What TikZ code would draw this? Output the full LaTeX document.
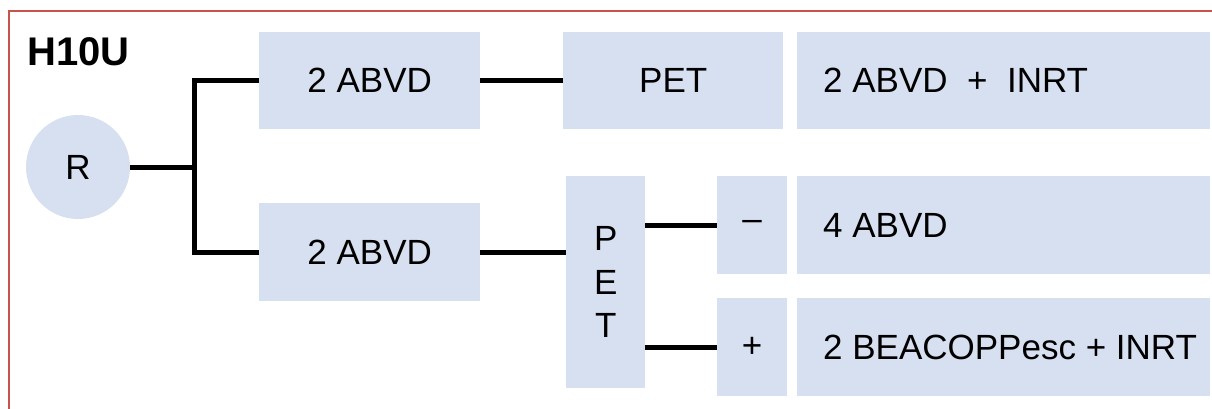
\documentclass[tikz,border=0pt]{standalone}
\usepackage{fontspec}
\setmainfont{Liberation Sans}
\usetikzlibrary{calc}
\definecolor{boxblue}{RGB}{214,224,241}
\definecolor{framered}{RGB}{200,82,76}
\begin{document}
\begin{tikzpicture}[x=1pt,y=-1pt,
  box/.style={fill=boxblue, draw=none, inner sep=0pt, anchor=north west,
    font=\fontsize{35}{42}\selectfont},
  txt/.style={inner sep=0pt, anchor=west, font=\fontsize{35}{42}\selectfont},
  link/.style={line width=5pt, black}]
\useasboundingbox (0,0) rectangle (1212,409);
% frame edges along top and left
\draw[framered, line width=2pt] (9,409) -- (9,11) -- (1212,11);
\node[font=\bfseries\fontsize{40}{44}\selectfont, anchor=north west, inner sep=0pt] (title) at (27,37) {H10U};
% randomisation
\node[circle, fill=boxblue, minimum size=104pt, inner sep=0pt,
  font=\fontsize{35}{42}\selectfont] (R) at (78,167) {R};
% upper arm
\node[box, minimum width=221pt, minimum height=97pt] (a1) at (259,32) {2 ABVD};
\node[box, minimum width=220pt, minimum height=97pt] (p1) at (563,32) {PET};
\node[box, minimum width=413pt, minimum height=97pt] (r1) at (797,32) {};
\node[txt] (t1) at ($(r1.west)+(26,0)$) {2 ABVD\ \ +\ \ INRT};
% lower arm
\node[box, minimum width=221pt, minimum height=98pt] (a2) at (259,203) {2 ABVD};
\node[box, minimum width=79pt, minimum height=212pt, align=center,
  font=\fontsize{35}{43.5}\selectfont] (p2) at (566,176) {P\\E\\T};
\node[box, minimum width=70pt, minimum height=98pt] (neg) at (717,176) {–};
\node[box, minimum width=70pt, minimum height=98pt] (pos) at (717,298) {+};
\node[box, minimum width=413pt, minimum height=98pt] (r2) at (797,176) {};
\node[txt] (t2) at ($(r2.west)+(26,0)$) {4 ABVD};
\node[box, minimum width=413pt, minimum height=98pt] (r3) at (797,298) {};
\node[txt] (t3) at ($(r3.west)+(26,0)$) {2 BEACOPPesc + INRT};
% connectors
\coordinate (j) at (194,167);
\draw[link] (R.east) -- (j);
\draw[link] (a1.west) -| (j) |- (a2.west);
\draw[link] (a1.east) -- (p1.west);
\draw[link] (a2.east) -- (p2.west |- a2.east);
\draw[link] (p2.east |- neg.west) -- (neg.west);
\draw[link] (p2.east |- pos.west) -- (pos.west);
\end{tikzpicture}
\end{document}
